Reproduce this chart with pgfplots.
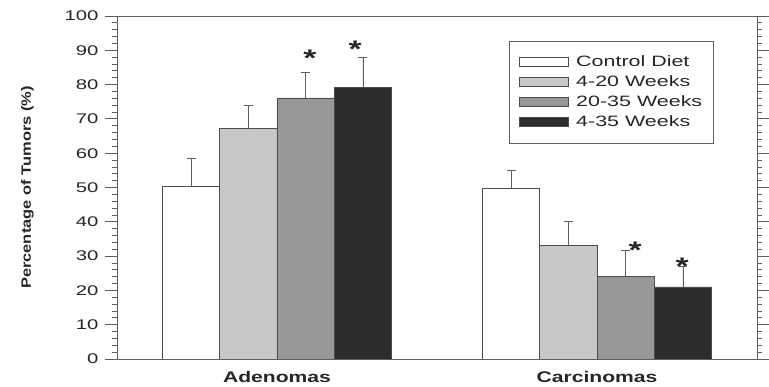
\documentclass[border=0pt]{standalone}
\usepackage{fontspec}
\setmainfont{Liberation Sans}
\usepackage{pgfplots}
\pgfplotsset{compat=1.18}
\usetikzlibrary{calc}
\definecolor{c1}{RGB}{255,255,255}
\definecolor{c2}{RGB}{200,200,200}
\definecolor{c3}{RGB}{152,152,152}
\definecolor{c4}{RGB}{45,45,45}
\definecolor{frame}{RGB}{95,95,95}
\newcommand\sx[2]{\scalebox{#1}[1]{#2}}
\begin{document}
\begin{tikzpicture}
\begin{axis}[
  name=ax,
  scale only axis, width=640pt, height=343pt,
  xmin=-0.5, xmax=1.5, ymin=0, ymax=100,
  ybar=0pt, bar width=57.3pt,
  axis line style={frame, line width=0.8pt},
  every tick/.style={frame, line width=0.8pt},
  tick align=outside,
  major tick length=12pt, minor tick length=5pt,
  ytick={0,10,...,100}, minor y tick num=4,
  ytick pos=both, yticklabel pos=left,
  yticklabel={\sx{1.45}{\pgfmathprintnumber[assume math mode=true]{\tick}}},
  yticklabel style={font=\fontsize{14}{16}\selectfont, text=black!85, xshift=-3pt},
  xtick={0,1}, xtick style={draw=none},
  xticklabels={\sx{1.37}{Adenomas},\sx{1.37}{Carcinomas}},
  xticklabel style={font=\fontsize{15.4}{17}\selectfont\bfseries, text=black!85, yshift=3.5pt},
  ylabel={\sx{1.22}{Percentage of Tumors (\%)}},
  ylabel style={font=\fontsize{13.5}{15}\selectfont\bfseries, text=black!85, at={(axis description cs:-0.14,0.5)}, anchor=center},
  every axis plot/.append style={draw=black!70, line width=0.8pt,
    error bars/y dir=plus, error bars/y explicit,
    error bars/error mark=-,
    error bars/error bar style={frame, line width=0.8pt},
    error bars/error mark options={draw=frame, line width=0.8pt, mark size=4.5pt, rotate=90}},
  legend image code/.code={\draw[#1, line width=0.6pt] (0pt,-4.5pt) rectangle (49pt,4.5pt);},
  legend style={at={(0.933,0.928)}, anchor=north east, draw=frame, line width=0.8pt,
    font=\fontsize{15}{17}\selectfont, text=black!85, inner xsep=9.5pt, inner ysep=11pt,
    column sep=6pt,
    nodes={text height=11.5pt, text depth=3.5pt, inner ysep=2.5pt}},
  legend cell align=left,
]
\addplot[fill=c1] coordinates {(0,50.4) +- (0,8.1) (1,49.8) +- (0,5.1)};
\addplot[fill=c2] coordinates {(0,67.1) +- (0,6.7) (1,33.2) +- (0,6.9)};
\addplot[fill=c3] coordinates {(0,76.1) +- (0,7.5) (1,24.1) +- (0,7.5)};
\addplot[fill=c4] coordinates {(0,79.2) +- (0,8.7) (1,21.0) +- (0,6.1)};
\legend{\sx{1.43}{Control Diet},\sx{1.43}{4-20 Weeks},\sx{1.43}{20-35 Weeks},\sx{1.43}{4-35 Weeks}}
\begin{scope}[every node/.style={font=\fontsize{24}{26}\selectfont\bfseries, text=black!85, anchor=center, yshift=-5pt}]
\node at (axis cs:0.103,89.2) {\sx{1.4}{*}};
\node at (axis cs:0.244,91.8) {\sx{1.4}{*}};
\node at (axis cs:1.119,33.2) {\sx{1.4}{*}};
\node at (axis cs:1.266,28.6) {\sx{1.4}{*}};
\end{scope}
\end{axis}
\pgfresetboundingbox
\path ($(ax.south west)+(-117pt,-28pt)$) rectangle ($(ax.north east)+(12pt,16pt)$);
\end{tikzpicture}
\end{document}
